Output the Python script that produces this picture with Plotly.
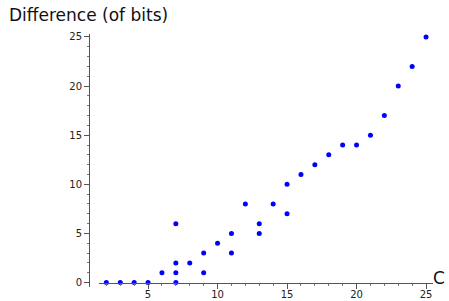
import plotly.graph_objects as go

x_vals = [2, 3, 4, 5, 6, 7, 7, 7, 7, 8, 9, 9, 10, 11, 11, 12, 13, 13, 14, 15, 15, 16, 17, 18, 19, 20, 21, 22, 23, 24, 25]
y_vals = [0, 0, 0, 0, 1, 0, 1, 2, 6, 2, 1, 3, 4, 3, 5, 8, 5, 6, 8, 7, 10, 11, 12, 13, 14, 14, 15, 17, 20, 22, 25]
x_ticks = [5, 10, 15, 20, 25]
y_ticks = [0, 5, 10, 15, 20, 25]

W, H = 449, 301
ml, mr, mt, mb = 89, 16, 34, 14
plot_w = W - ml - mr
plot_h = H - mt - mb
ymin, ymax = -0.45, 25.3
y0_frac = (0 - ymin) / (ymax - ymin)
x_dom0 = (99 - ml) / plot_w

fig = go.Figure()
fig.add_trace(go.Scatter(x=x_vals, y=y_vals, mode="markers",
                         marker=dict(color="#0000ff", size=5, line=dict(width=0)),
                         showlegend=False, cliponaxis=False))

axis_font = dict(family="DejaVu Sans", size=10, color="#222222")
fig.update_layout(
    width=W, height=H,
    margin=dict(l=ml, r=mr, t=mt, b=mb, autoexpand=False),
    plot_bgcolor="white", paper_bgcolor="white",
    xaxis=dict(range=[1.47, 25.5], domain=[x_dom0, 1], tickvals=x_ticks, showgrid=False, zeroline=False,
               showline=True, linecolor="#555555", linewidth=1, automargin=False,
               ticks="outside", ticklen=5, tickcolor="#555555", tickfont=axis_font,
               ticklabelstandoff=-3,
               anchor="free", position=y0_frac,
               minor=dict(dtick=1, ticks="outside", ticklen=2, tickcolor="#777777", showgrid=False)),
    yaxis=dict(range=[ymin, ymax], tickvals=y_ticks, showgrid=False, zeroline=False,
               showline=True, linecolor="#555555", linewidth=1, automargin=False,
               anchor="free", position=0,
               ticks="outside", ticklen=5, tickcolor="#555555", tickfont=axis_font,
               minor=dict(dtick=1, ticks="outside", ticklen=2, tickcolor="#777777", showgrid=False)),
    annotations=[
        dict(text="Difference (of bits)", xref="paper", yref="paper",
             x=(7 - ml) / plot_w, y=1 + (mt - 15) / plot_h,
             xanchor="left", yanchor="middle", showarrow=False,
             font=dict(family="DejaVu Sans", size=17, color="#111111")),
        dict(text="C", xref="paper", yref="paper", x=(446 - ml) / plot_w,
             y=(H - mb - 278) / plot_h, xanchor="right", yanchor="middle", showarrow=False,
             borderpad=0,
             font=dict(family="DejaVu Sans", size=17, color="#111111")),
    ],
)
fig.write_html("out.html", config={"displayModeBar": False},
               post_script="document.body.style.margin='0';document.body.style.overflow='hidden';")
